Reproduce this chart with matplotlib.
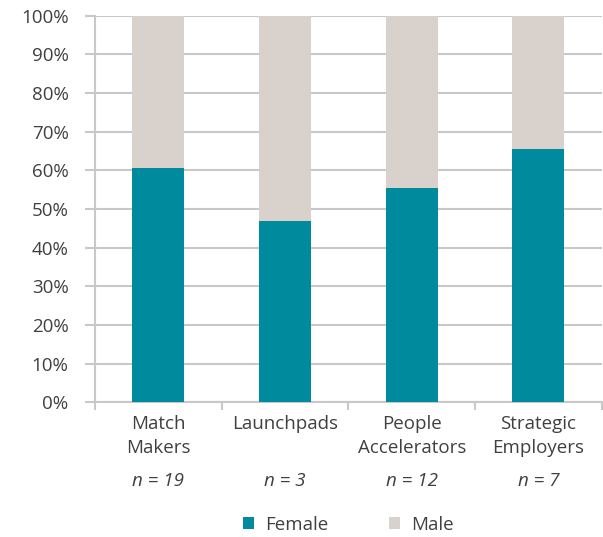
import matplotlib
matplotlib.use("Agg")
import matplotlib.pyplot as plt
from matplotlib.transforms import blended_transform_factory
import numpy as np

categories = ["Match\nMakers", "Launchpads", "People\nAccelerators", "Strategic\nEmployers"]
sample_sizes = ["n = 19", "n = 3", "n = 12", "n = 7"]
female = [60.5, 47.0, 55.5, 65.5]
male = [100 - f for f in female]

teal = "#008A9D"
beige = "#D9D1CB"
grid_col = "#C8C8C8"
text_col = "#404040"
fs = 13.5

plt.rcParams["font.family"] = ["Open Sans", "DejaVu Sans"]

fig = plt.figure(figsize=(6.03, 5.37), dpi=100)
ax = fig.add_axes([0.1575, 0.2508, 0.8405, 0.72])

x = np.arange(len(categories))
w = 0.41
ax.bar(x, female, width=w, color=teal, zorder=3, label="Female")
ax.bar(x, male, bottom=female, width=w, color=beige, zorder=3, label="Male")

ax.set_xlim(-0.5, len(categories) - 0.5)
ax.set_ylim(0, 100)
ax.set_yticks(np.arange(0, 101, 10))
ax.set_yticklabels([f"{v}%" for v in range(0, 101, 10)], color=text_col, fontsize=fs)
ax.yaxis.grid(True, color=grid_col, linewidth=1.5, zorder=0)
ax.tick_params(axis="y", length=7, width=1.5, color=grid_col, pad=12)

ax.set_xticks(x)
ax.set_xticklabels([])
ax.tick_params(axis="x", which="major", length=0)
ax.set_xticks(np.arange(-0.5, len(categories), 1), minor=True)
ax.tick_params(axis="x", which="minor", length=6, width=1.5, color=grid_col)

for s in ["top", "right"]:
    ax.spines[s].set_visible(False)
for s in ["left", "bottom"]:
    ax.spines[s].set_color(grid_col)
    ax.spines[s].set_linewidth(1.5)

trans = blended_transform_factory(ax.transData, fig.transFigure)
for xi, cat, n in zip(x, categories, sample_sizes):
    ax.text(xi, 1 - 415 / 537, cat, transform=trans, ha="center", va="top",
            fontsize=fs, color=text_col, linespacing=1.45)
    ax.text(xi, 1 - 481 / 537, n, transform=trans, ha="center", va="center",
            fontsize=fs, color=text_col, style="italic")

handles, labels = ax.get_legend_handles_labels()
fig.legend(handles, labels, loc="center", bbox_to_anchor=(0.578, 1 - 525 / 537),
           ncol=2, frameon=False, fontsize=fs, handlelength=0.6, handleheight=0.6,
           columnspacing=3.2, handletextpad=0.6, labelcolor=text_col)

fig.savefig("out.png", dpi=100)
